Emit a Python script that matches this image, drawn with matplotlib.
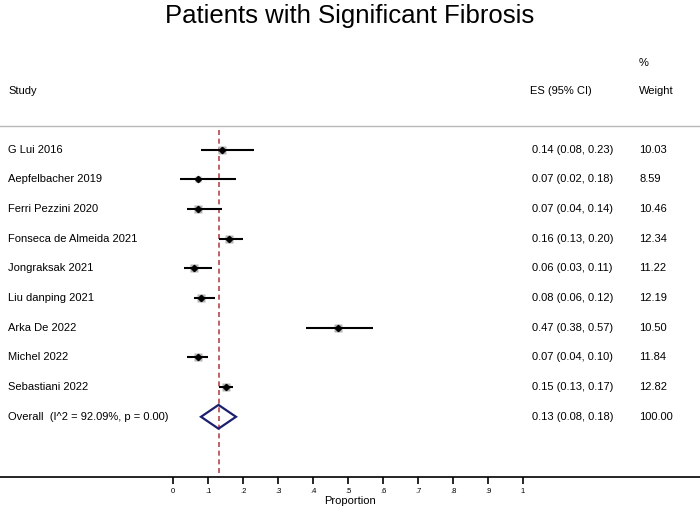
import matplotlib.pyplot as plt

plt.rcParams['font.family'] = ['Liberation Sans', 'DejaVu Sans']

studies = ["G Lui 2016", "Aepfelbacher 2019", "Ferri Pezzini 2020",
           "Fonseca de Almeida 2021", "Jongraksak 2021", "Liu danping 2021",
           "Arka De 2022", "Michel 2022", "Sebastiani 2022"]
es = [0.14, 0.07, 0.07, 0.16, 0.06, 0.08, 0.47, 0.07, 0.15]
lo = [0.08, 0.02, 0.04, 0.13, 0.03, 0.06, 0.38, 0.04, 0.13]
hi = [0.23, 0.18, 0.14, 0.20, 0.11, 0.12, 0.57, 0.10, 0.17]
weights = [10.03, 8.59, 10.46, 12.34, 11.22, 12.19, 10.50, 11.84, 12.82]

overall_label = "Overall  (I^2 = 92.09%, p = 0.00)"
overall_es, overall_lo, overall_hi = 0.13, 0.08, 0.18
overall_weight = 100.00

ticks = [0, 0.1, 0.2, 0.3, 0.4, 0.5, 0.6, 0.7, 0.8, 0.9, 1.0]
tick_labels = ["0", ".1", ".2", ".3", ".4", ".5", ".6", ".7", ".8", ".9", "1"]

W, H = 700, 509
fig = plt.figure(figsize=(7, 5.09), dpi=100)

# axes spans whole width; bottom spine is the axis line
x0_px, unit_px = 173, 350
axis_px = 477
row0_px, row_step = 149.5, 29.7
ax = fig.add_axes([0, (H - axis_px) / H, 1, axis_px / H])
ax.set_xlim(-x0_px / unit_px, (W - x0_px) / unit_px)
ax.set_ylim((axis_px - row0_px) / row_step, -row0_px / row_step)

def px_x(px):
    return (px - x0_px) / unit_px

def px_y(px):
    return (px - row0_px) / row_step

for s in ['top', 'right', 'left']:
    ax.spines[s].set_visible(False)
ax.spines['bottom'].set_linewidth(1.2)
ax.set_yticks([])
ax.set_xticks(ticks)
ax.set_xticklabels(tick_labels, fontsize=5.5)
ax.tick_params(axis='x', length=5, width=1.2, pad=3)
ax.set_xlabel("Proportion", fontsize=8, labelpad=1)

# header separator
ax.axhline(px_y(126), color='#b8b8b8', lw=1)

# overall line
ax.vlines(overall_es, px_y(130), px_y(axis_px), colors='#b5474b',
          linestyles=(0, (3, 2.2)), lw=1.2)

txt = dict(fontsize=8, va='center', color='black')
for i, name in enumerate(studies):
    ax.hlines(i, lo[i], hi[i], color='black', lw=1.5, zorder=3)
    side = 7.2 * (weights[i] / 10) ** 0.5
    ax.plot(es[i], i, marker='s', ms=side * 0.72, color='#b4b4b4', mec='none', zorder=2)
    ax.plot(es[i], i, marker='D', ms=3.2, color='black', zorder=4)
    ax.text(px_x(8), i, name, **txt)
    ax.text(px_x(532), i, f"{es[i]:.2f} ({lo[i]:.2f}, {hi[i]:.2f})", **txt)
    ax.text(px_x(639), i, f"{weights[i]:.2f}", **txt)

k = len(studies)
dh = 0.4
ax.fill([overall_lo, overall_es, overall_hi, overall_es, overall_lo],
        [k, k - dh, k, k + dh, k], facecolor='none', edgecolor='#1c1f6e', lw=1.6, zorder=4)
ax.text(px_x(8), k, overall_label, **txt)
ax.text(px_x(532), k, f"{overall_es:.2f} ({overall_lo:.2f}, {overall_hi:.2f})", **txt)
ax.text(px_x(639), k, f"{overall_weight:.2f}", **txt)

# headers
ax.text(px_x(8), px_y(91), "Study", **txt)
ax.text(px_x(530), px_y(91), "ES (95% CI)", **txt)
ax.text(px_x(639), px_y(91), "Weight", **txt)
ax.text(px_x(639), px_y(63), "%", **txt)

fig.text(0.5, 1 - 16 / H, "Patients with Significant Fibrosis", ha='center', va='center', fontsize=18.5)

fig.savefig("out.png", dpi=100)
